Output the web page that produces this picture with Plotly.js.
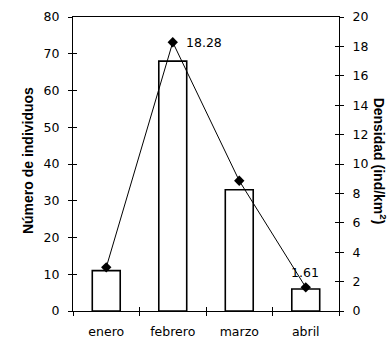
<!DOCTYPE html>
<html>
<head>
<meta charset="utf-8">
<script src="https://cdn.plot.ly/plotly-3.0.1.min.js"></script>
<style>html,body{margin:0;padding:0;background:#fff;}#chart{width:389px;height:342px;}</style>
</head>
<body>
<div id="chart"></div>
<script>
const months = ["enero", "febrero", "marzo", "abril"];
const individuos = [11, 68, 33, 6];
const densidad = [2.97, 18.28, 8.86, 1.61];

const TICKFONT = "DejaVu Sans, Liberation Sans, sans-serif";
const TITLEFONT = "Liberation Sans, Arial, sans-serif";

const traces = [
  {
    type: "bar", x: months, y: individuos, yaxis: "y",
    marker: {color: "#ffffff", line: {color: "#000000", width: 1.6}},
    hoverinfo: "skip", showlegend: false
  },
  {
    type: "scatter", mode: "lines+markers", x: months, y: densidad, yaxis: "y2",
    line: {color: "#000000", width: 1},
    marker: {symbol: "diamond", size: 8, color: "#000000"},
    showlegend: false, cliponaxis: false
  },
  // invisible helper traces that carry the inner halves of the crossing tick marks
  {type: "scatter", mode: "markers", x: months, y: individuos, xaxis: "x2", yaxis: "y3",
   marker: {opacity: 0}, hoverinfo: "skip", showlegend: false},
  {type: "scatter", mode: "markers", x: months, y: densidad, xaxis: "x2", yaxis: "y4",
   marker: {opacity: 0}, hoverinfo: "skip", showlegend: false}
];

const annotations = [
  {xref: "x", yref: "y2", x: months[1], y: densidad[1], text: densidad[1].toFixed(2),
   showarrow: false, xanchor: "left", yanchor: "middle", xshift: 11, yshift: 0,
   font: {family: TICKFONT, size: 12.5, color: "#000"}},
  {xref: "x", yref: "y2", x: months[3], y: densidad[3], text: densidad[3].toFixed(2),
   showarrow: false, xanchor: "center", yanchor: "middle", xshift: -1, yshift: 15,
   font: {family: TICKFONT, size: 12.5, color: "#000"}},
  {xref: "paper", yref: "paper", x: -0.169, y: 0.51, text: "Número de individuos",
   textangle: -90, showarrow: false, xanchor: "center", yanchor: "middle",
   font: {family: TITLEFONT, size: 14, color: "#000", weight: "bold"}},
  {xref: "paper", yref: "paper", x: 1.152, y: 0.51, text: "Densidad (ind/km<sup>2</sup>)",
   textangle: 90, showarrow: false, xanchor: "center", yanchor: "middle",
   font: {family: TITLEFONT, size: 14, color: "#000", weight: "bold"}}
];

const commonTick = {tickcolor: "#000", tickwidth: 1, showgrid: false, zeroline: false};

const layout = {
  width: 389, height: 342,
  margin: {l: 73, r: 50, t: 17, b: 31},
  paper_bgcolor: "#fff", plot_bgcolor: "#fff",
  font: {family: TICKFONT, size: 12.5, color: "#000"},
  bargap: 0.58,
  xaxis: Object.assign({
    type: "category", categoryarray: months, range: [-0.5, 3.5],
    showline: true, linecolor: "#000", linewidth: 1, mirror: true,
    ticks: "outside", tickson: "boundaries", ticklen: 4,
    ticklabelstandoff: 9, tickfont: {family: TICKFONT, size: 12.5}
  }, commonTick),
  yaxis: Object.assign({
    range: [0, 80], dtick: 10, showline: true, linecolor: "#000", linewidth: 1,
    ticks: "outside", ticklen: 4, ticklabelstandoff: 6,
    tickfont: {family: TICKFONT, size: 12.5}
  }, commonTick),
  yaxis2: Object.assign({
    range: [0, 20], dtick: 2, overlaying: "y", side: "right",
    showline: true, linecolor: "#000", linewidth: 1,
    ticks: "outside", ticklen: 4, ticklabelstandoff: 6,
    tickfont: {family: TICKFONT, size: 12.5}
  }, commonTick),
  xaxis2: Object.assign({
    type: "category", categoryarray: months, range: [-0.5, 3.5],
    overlaying: "x", anchor: "y3", side: "bottom",
    showline: false, ticks: "inside", tickson: "boundaries", ticklen: 4,
    showticklabels: false
  }, commonTick),
  yaxis3: Object.assign({
    range: [0, 80], dtick: 10, overlaying: "y", anchor: "x2", side: "left",
    showline: false, ticks: "inside", ticklen: 4, showticklabels: false
  }, commonTick),
  yaxis4: Object.assign({
    range: [0, 20], dtick: 2, overlaying: "y", anchor: "x2", side: "right",
    showline: false, ticks: "inside", ticklen: 4, showticklabels: false
  }, commonTick),
  annotations: annotations
};

Plotly.newPlot("chart", traces, layout, {displayModeBar: false, staticPlot: true});
</script>
</body>
</html>
